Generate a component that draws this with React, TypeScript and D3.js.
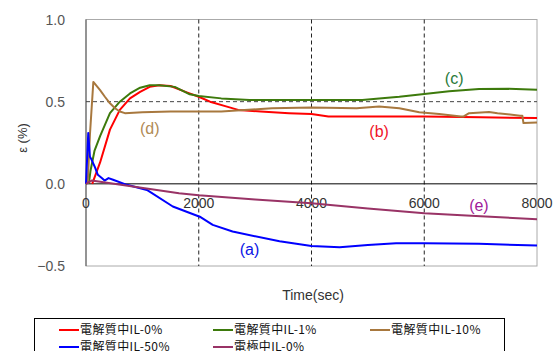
import React from 'react';
import * as d3 from 'd3';

const width = 554;
const height = 351;

// time (sec), strain (%)
const seriesNames = ['電解質中IL-0%', '電解質中IL-1%', '電解質中IL-10%', '電解質中IL-50%', '電極中IL-0%'];
const seriesColors = ['#ff0000', '#3d7a0c', '#a8783e', '#0000ff', '#993366'];

const redT = [110, 250, 425, 600, 780, 960, 1130, 1300, 1500, 1800, 2000, 2200, 2500, 2700, 3100, 3600, 4000, 4300, 5000, 6000, 7000, 8000];
const redV = [0, 0.13, 0.33, 0.45, 0.52, 0.56, 0.59, 0.6, 0.595, 0.555, 0.53, 0.5, 0.47, 0.45, 0.44, 0.43, 0.425, 0.41, 0.41, 0.41, 0.405, 0.4];

const greenT = [50, 80, 150, 250, 425, 600, 780, 960, 1130, 1300, 1575, 1840, 2000, 2400, 2900, 4000, 4900, 5200, 5558, 6000, 6442, 6973, 7500, 8000];
const greenV = [0, 0.08, 0.2, 0.29, 0.43, 0.5, 0.55, 0.585, 0.6, 0.6, 0.59, 0.545, 0.535, 0.52, 0.51, 0.51, 0.51, 0.52, 0.53, 0.547, 0.563, 0.577, 0.578, 0.573];

const brownT = [30, 70, 130, 250, 335, 425, 515, 600, 690, 1000, 1500, 2000, 2400, 3100, 3300, 4000, 4800, 5200, 5558, 5912, 6265, 6650, 6700, 6796, 7150, 7300, 7700, 7740, 7760, 8000];
const brownV = [0, 0.3, 0.62, 0.57, 0.53, 0.49, 0.46, 0.44, 0.43, 0.435, 0.44, 0.44, 0.44, 0.455, 0.46, 0.465, 0.46, 0.47, 0.46, 0.435, 0.425, 0.41, 0.41, 0.43, 0.437, 0.43, 0.415, 0.415, 0.37, 0.373];

const blueT = [0, 40, 70, 100, 160, 210, 280, 330, 400, 480, 725, 1080, 1540, 2018, 2248, 2600, 3433, 4000, 4500, 5000, 5500, 6000, 6970, 8000];
const blueV = [0, 0.31, 0.165, 0.146, 0.1, 0.055, 0.035, 0.02, 0.035, 0.025, -0.006, -0.037, -0.138, -0.2, -0.25, -0.29, -0.35, -0.378, -0.386, -0.372, -0.362, -0.362, -0.365, -0.376];

const purpleT = [0, 100, 800, 1650, 2000, 3000, 4000, 5000, 6000, 7000, 8000];
const purpleV = [0, 0.02, -0.015, -0.057, -0.07, -0.095, -0.118, -0.15, -0.179, -0.198, -0.215];

const seriesT = [redT, greenT, brownT, blueT, purpleT];
const seriesV = [redV, greenV, brownV, blueV, purpleV];

const xTicks = [0, 2000, 4000, 6000, 8000];
const yTicks = [1.0, 0.5, 0.0, -0.5];

const annText = ['(a)', '(b)', '(c)', '(d)', '(e)'];
const annT = [2900, 5200, 6530, 1130, 6970];
const annV = [-0.4, 0.32, 0.645, 0.34, -0.13];
const annColors = ['#0a14e6', '#f0142a', '#2a7a3a', '#b08a55', '#a0209a'];

const sans = '"Liberation Sans", Arial, sans-serif';
const jp = '"Noto Sans CJK JP", sans-serif';

const App = () => {
  const x = d3.scaleLinear().domain([0, 8000]).range([86, 537]);
  const y = d3.scaleLinear().domain([-0.5, 1.0]).range([266, 19.5]);

  const line = d3.line<number[]>()
    .x(d => x(d[0]))
    .y(d => y(d[1]));

  const legendCols = [59, 213, 370];

  return (
    <div style={{ position: 'absolute', left: 0, top: 0 }}>
      <svg width={width} height={height} style={{ display: 'block' }}>
        <rect x={0} y={0} width={width} height={height} fill="#fff" />
        {/* frame */}
        <rect x={x(0)} y={y(1)} width={x(8000) - x(0)} height={y(-0.5) - y(1)} fill="none" stroke="#aaa" />
        <line x1={x(0)} x2={x(0)} y1={y(1)} y2={y(-0.5)} stroke="#555" />
        {/* grid */}
        {[2000, 4000, 6000].map(t =>
          <line key={t} x1={x(t)} x2={x(t)} y1={y(1)} y2={y(-0.5)} stroke="#222" strokeDasharray="4,3" />
        )}
        <line x1={x(0)} x2={x(8000)} y1={y(0.5)} y2={y(0.5)} stroke="#444" strokeDasharray="4,3" />
        <line x1={x(0)} x2={x(8000)} y1={y(0)} y2={y(0)} stroke="#000" />

        {/* tick labels */}
        {yTicks.map(v =>
          <text key={v} x={65} y={y(v)} dy="0.36em" textAnchor="end" fontFamily={sans} fontSize={14} fill="#555">
            {v < 0 ? '\u2212' + Math.abs(v).toFixed(1) : v.toFixed(1)}
          </text>
        )}
        {xTicks.map(t =>
          <text key={t} x={x(t)} y={y(0) + 19} dy="0.36em" textAnchor="middle" fontFamily={sans} fontSize={14} fill="#333">
            {t}
          </text>
        )}

        {/* series */}
        {seriesT.map((ts, i) =>
          <path key={i} d={line(ts.map((t, j) => [t, seriesV[i][j]])) || ''} fill="none" stroke={seriesColors[i]} strokeWidth={2} strokeLinejoin="round" />
        )}

        {/* annotations */}
        {annText.map((s, i) =>
          <text key={s} x={x(annT[i])} y={y(annV[i])} dy="0.36em" textAnchor="middle" fontFamily={sans} fontSize={16} fill={annColors[i]}>
            {s}
          </text>
        )}

        {/* axis titles */}
        <text transform={`translate(22,138) rotate(-90)`} dy="0.36em" textAnchor="middle" fontFamily={sans} fontSize={13} fill="#333">ε (%)</text>
        <text x={313} y={295} dy="0.36em" textAnchor="middle" fontFamily={sans} fontSize={14} fill="#333">Time(sec)</text>

        {/* legend */}
        <rect x={34.5} y={318.5} width={470} height={50} fill="#fff" stroke="#000" />
        {seriesNames.map((name, i) => {
          const cx = legendCols[i % 3];
          const cy = i < 3 ? 330 : 347;
          return (
            <g key={name}>
              <line x1={cx} x2={cx + 20} y1={cy} y2={cy} stroke={seriesColors[i]} strokeWidth={2} />
              <text x={cx + 21} y={cy} dy="0.36em" fontFamily={jp} fontSize={12} letterSpacing={0.4} fill="#111">{name}</text>
            </g>
          );
        })}
      </svg>
    </div>
  );
};

export default App;
